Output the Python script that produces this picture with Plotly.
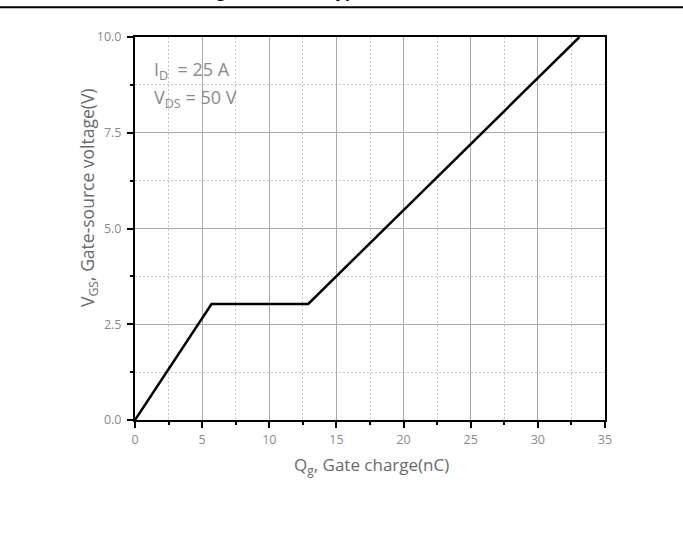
import plotly.graph_objects as go

# Data
gate_charge_nC = [0.0, 5.7, 12.9, 33.1]
vgs_V = [0.0, 3.03, 3.03, 10.0]

x_ticks = [0, 5, 10, 15, 20, 25, 30, 35]
y_ticks = [0.0, 2.5, 5.0, 7.5, 10.0]

W, H = 683, 543
L, R, T, B = 135, 78, 37, 123
PW, PH = W - L - R, H - T - B


def px(xp):
    return (xp - L) / PW


def py(yp):
    return (H - B - yp) / PH


FONT = "Open Sans"
GRAY_T = "#6a6a6a"
GRAY_L = "#8a8a8a"

fig = go.Figure()
fig.add_trace(go.Scatter(x=gate_charge_nC, y=vgs_V, mode="lines",
                         line=dict(color="black", width=2.5),
                         showlegend=False, hoverinfo="skip"))

axis_common = dict(
    showline=True, linecolor="black", linewidth=2, mirror=True,
    ticks="outside", ticklen=6, tickwidth=2, tickcolor="black",
    showgrid=True, gridcolor="#a9a9a9", gridwidth=1,
    zeroline=False,
    tickfont=dict(family=FONT, size=12.5, color=GRAY_L),
)

minor_common = dict(ticks="outside", ticklen=3, tickwidth=2, tickcolor="black",
                    showgrid=True, gridcolor="#c8c8c8", griddash="2px,2px", gridwidth=1)

fig.update_xaxes(range=[0, 35], tickmode="array", tickvals=x_ticks,
                 ticktext=[str(v) for v in x_ticks], ticklabelstandoff=1,
                 minor=dict(dtick=2.5, tick0=0, **minor_common),
                 **axis_common)
fig.update_yaxes(range=[0, 10], tickmode="array", tickvals=y_ticks,
                 ticktext=[f"{v:.1f}" for v in y_ticks], ticklabelstandoff=3,
                 minor=dict(dtick=1.25, tick0=0, **minor_common),
                 **axis_common)

annotations = [
    dict(text="I<sub>D</sub>\u00a0\u00a0= 25 A", x=px(152), y=py(70.5), xanchor="left",
         yanchor="middle", font=dict(family=FONT, size=18, color=GRAY_L)),
    dict(text="V<sub>DS</sub> = 50 V", x=px(152), y=py(98.7), xanchor="left",
         yanchor="middle", font=dict(family=FONT, size=18, color=GRAY_L)),
    dict(text="Q<sub>g</sub>, Gate charge(nC)", x=px(371), y=py(465), xanchor="center",
         yanchor="middle", font=dict(family=FONT, size=17, color=GRAY_T)),
    dict(text="V<sub>GS</sub>, Gate-source voltage(V)", x=px(88), y=py(198), xanchor="center",
         yanchor="middle", textangle=-90, font=dict(family=FONT, size=17.5, color=GRAY_T)),
    dict(text="<b>Gate charge waveform, typical</b>", x=px(137), y=py(-8.5), xanchor="left",
         yanchor="middle", font=dict(family=FONT, size=16, color="black")),
]
for a in annotations:
    a.update(xref="paper", yref="paper", showarrow=False)

fig.update_layout(
    width=W, height=H,
    margin=dict(l=L, r=R, t=T, b=B, pad=0),
    paper_bgcolor="white", plot_bgcolor="white",
    annotations=annotations,
    shapes=[dict(type="line", xref="paper", yref="paper",
                 x0=px(0), x1=px(W), y0=py(7.3), y1=py(7.3),
                 line=dict(color="black", width=2))],
)

fig.write_html("out.html")
